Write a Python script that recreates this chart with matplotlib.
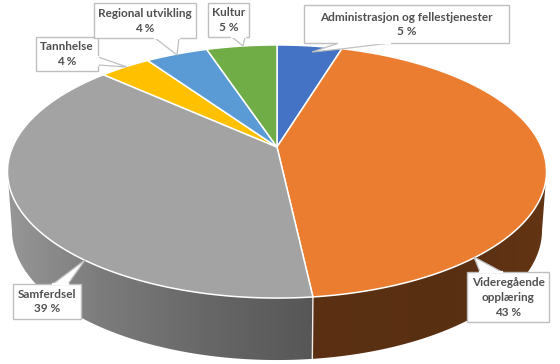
import numpy as np
import matplotlib
matplotlib.use("Agg")
import matplotlib.pyplot as plt
from matplotlib.patches import Polygon

categories = ["Administrasjon og fellestjenester", "Videregående\nopplæring", "Samferdsel",
              "Tannhelse", "Regional utvikling", "Kultur"]
shares = [4.7, 43.55, 38.45, 3.7, 4.5, 5.1]
labels = ["5 %", "43 %", "39 %", "4 %", "4 %", "5 %"]
colors = ["#4472C4", "#EB7D30", "#A3A3A3", "#FFC000", "#5B9BD5", "#70AD47"]

CX = 277.0
TOP = dict(cy=147.0, R=264.4, S=121.8, k=0.1937)
BOT = dict(cy=205.0, R=260.0, S=125.0, k=0.1937)

def project(theta, p):
    u, v = np.sin(theta), -np.cos(theta)
    w = 1 - p["k"] * v
    return np.column_stack([CX + p["R"] * u / w, p["cy"] + p["S"] * v / w])

fig = plt.figure(figsize=(5.6, 3.64), dpi=100)
ax = fig.add_axes([0, 0, 1, 1])
ax.set_xlim(0, 560)
ax.set_ylim(364, 0)
ax.axis("off")

edges = 2 * np.pi * np.concatenate([[0], np.cumsum(shares)]) / 100.0

# Side wall: the shaded gradient is an image clipped to the wall outline
xs = np.linspace(0, 560, 561)
grey_f = np.interp(xs, [10, 100, 200, 313], [0.92, 0.76, 0.64, 0.53])
brown_f = np.interp(xs, [313, 450, 546], [0.39, 0.38, 0.42])
for i, (col, fac, sign) in enumerate(zip(colors, [None, brown_f, grey_f, None, None, None],
                                         [0, 1, -1, 0, 0, 0])):
    if fac is None:
        continue
    th = np.linspace(edges[i], edges[i + 1], 600)
    t, b = project(th, TOP), project(th, BOT)
    it, ib = np.argmax(sign * t[:, 0]), np.argmax(sign * b[:, 0])
    if sign > 0:
        pts = np.vstack([t[it:], b[ib:][::-1]])
    else:
        pts = np.vstack([t[:it + 1], b[:ib + 1][::-1]])
    outline = Polygon(pts, closed=True, fc="none", ec="none", transform=ax.transData)
    ax.add_patch(outline)
    rgb = np.array(matplotlib.colors.to_rgb(col))
    img = (fac[:, None] * rgb)[None, :, :]
    im = ax.imshow(img, extent=(0, 560, 364, 0), aspect="auto", zorder=1,
                   interpolation="bilinear")
    im.set_clip_path(outline)
ax.set_xlim(0, 560)
ax.set_ylim(364, 0)

# Seam between the visible side walls
seam = edges[2]
st, sb = project(np.array([seam]), TOP)[0], project(np.array([seam]), BOT)[0]
ax.plot([st[0], sb[0]], [st[1], sb[1]], color="#F0EDE8", lw=1.0, zorder=2)

# Top face
for i, col in enumerate(colors):
    th = np.linspace(edges[i], edges[i + 1], 200)
    rim = project(th, TOP)
    ax.add_patch(Polygon(np.vstack([[CX, TOP["cy"]], rim]), closed=True, fc=col,
                         ec="white", lw=1.1, joinstyle="round", zorder=3))

# Callouts: (box x0, y0, x1, y1), pointer vertices, text centre
callouts = [
    ((304, 5, 509, 43), [(339, 43), (312, 52), (341, 49), (390, 43)], (406.5, 24.5)),
    ((467, 272, 549, 322), [(480, 272), (474, 257), (502, 272)], (508, 297.5)),
    ((13, 284, 81, 319), [(53, 284), (85, 260), (68, 284)], (47, 301.5)),
    ((36, 37, 98, 71), [(98, 57), (127, 67), (98, 65)], (67, 54)),
    ((94, 3, 196, 38), [(155, 38), (177, 55), (179, 38)], (145, 21)),
    ((208, 3, 249, 37), [(232, 37), (243, 46), (245, 37)], (228.5, 20)),
]
GREY = "#BFBFBF"
TXT = "#505050"
z = 5
for name, lab, (box, ptr, tc) in sorted(
        zip(categories, labels, callouts), key=lambda r: r[2][0][1] == 3):
    x0, y0, x1, y1 = box
    ax.add_patch(Polygon([(x0, y0), (x1, y0), (x1, y1), (x0, y1)], closed=True,
                         fc="white", ec=GREY, lw=1.0, zorder=z))
    ax.add_patch(Polygon(ptr, closed=False, fc="white", ec=GREY, lw=0.9, zorder=z))
    ax.plot([ptr[0][0], ptr[-1][0]], [ptr[0][1], ptr[-1][1]], color="white", lw=1.6, zorder=z)
    ax.text(tc[0], tc[1], f"{name}\n{lab}", ha="center", va="center", color=TXT,
            family="Lato", fontweight="bold", fontsize=8.5, linespacing=1.42, zorder=z + 1)
    z += 2

fig.savefig("out.png", dpi=100)
